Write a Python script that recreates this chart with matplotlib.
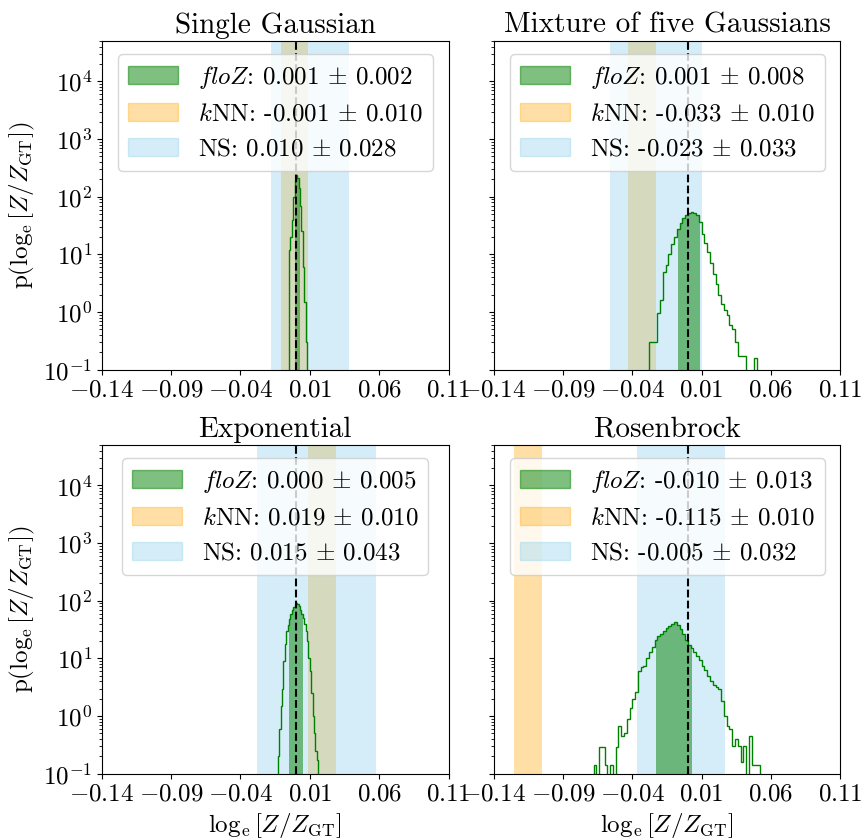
import numpy as np
import matplotlib
matplotlib.use('Agg')
import matplotlib.pyplot as plt
from matplotlib.patches import Patch
from matplotlib.ticker import LogLocator, NullFormatter

plt.rcParams['font.family'] = 'serif'
plt.rcParams['font.serif'] = ['cmr10']
plt.rcParams['mathtext.fontset'] = 'cm'
plt.rcParams['axes.formatter.use_mathtext'] = True

titles = ['Single Gaussian', 'Mixture of five Gaussians', 'Exponential', 'Rosenbrock']

# mean and std of log-evidence error for each method
floz_mean = [0.001, 0.001, 0.000, -0.010]
floz_std = [0.002, 0.008, 0.005, 0.013]
knn_mean = [-0.001, -0.033, 0.019, -0.115]
knn_std = [0.010, 0.010, 0.010, 0.010]
ns_mean = [0.010, -0.023, 0.015, -0.005]
ns_std = [0.028, 0.033, 0.043, 0.032]

# floZ histograms (density per bin)
gauss_start, gauss_width = -0.005, 0.001
gauss_dens = [12, 20, 40, 100, 190, 240, 210, 140, 70, 25, 6, 1.5, 0.3]

mix_start, mix_width = -0.028, 0.002
mix_dens = [0.3, 0.3, 0.3, 0.95, 1.6, 5, 6.5, 10, 15, 20, 28, 35, 43, 49, 53,
            54, 53, 48, 36, 23, 16, 11, 7, 4.5, 3, 2, 1.4, 1.1, 0.9, 0.6,
            0.5, 0.3, 0.17, 0.17, 0.17, 0, 0, 0, 0.16]

exp_start, exp_width = -0.013, 0.001
exp_dens = [0.2, 0.6, 1.5, 3, 9, 18, 30, 38, 48, 58, 68, 78, 86, 92, 88,
            80, 70, 60, 50, 40, 30, 20, 10, 6, 2.5, 1, 0.5, 0.25, 0.17]

rosen_start, rosen_width = -0.068, 0.002
rosen_dens = [0.14, 0, 0.29, 0.29, 0.14, 0, 0.14, 0, 0.29, 0.68, 0.45, 0.5,
              0.9, 1.35, 2, 2.6, 6, 7, 7.5, 10, 13, 16, 21, 24, 27, 30, 34,
              37, 40, 43, 38, 32, 27, 21, 17, 15, 13, 11, 9.5, 7.5, 6.3, 5,
              4, 3.4, 3.2, 3, 1.8, 1.0, 0.68, 0.6, 0.3, 0.4, 0.3, 0.16, 0.3,
              0, 0.45, 0.14, 0.14, 0.14]

hists = [(gauss_start, gauss_width, gauss_dens),
         (mix_start, mix_width, mix_dens),
         (exp_start, exp_width, exp_dens),
         (rosen_start, rosen_width, rosen_dens)]

xticks = [-0.14, -0.09, -0.04, 0.01, 0.06, 0.11]


def plot():
    fig, axes = plt.subplots(2, 2, figsize=(8.62, 8.4), dpi=100)
    fig.subplots_adjust(left=0.118, right=0.975, top=0.951, bottom=0.079,
                        wspace=0.13, hspace=0.23)

    for i, ax in enumerate(axes.flat):
        start, width, dens = hists[i]
        dens = np.array(dens, dtype=float)
        edges = start + width * np.arange(len(dens) + 1)

        ax.axvspan(knn_mean[i] - knn_std[i], knn_mean[i] + knn_std[i],
                   color='orange', alpha=0.35, lw=0)
        ax.axvspan(ns_mean[i] - ns_std[i], ns_mean[i] + ns_std[i],
                   color='skyblue', alpha=0.35, lw=0)

        # shade the histogram within one std of the floZ mean
        lo = floz_mean[i] - floz_std[i]
        hi = floz_mean[i] + floz_std[i]
        xs = np.clip(edges, lo, hi)
        ys = np.append(dens, dens[-1])
        ax.fill_between(xs, ys, 1e-3, step='post', color='green', alpha=0.5, lw=0)
        ax.hist(edges[:-1], bins=edges, weights=dens, histtype='step',
                color='green', lw=1)

        ax.axvline(0, color='black', ls='--', lw=1.5)

        ax.set_yscale('log')
        ax.set_ylim(0.1, 5e4)
        ax.yaxis.set_major_locator(LogLocator(base=10, numticks=20))
        ax.yaxis.set_minor_locator(LogLocator(base=10, subs=np.arange(2, 10), numticks=20))
        ax.yaxis.set_minor_formatter(NullFormatter())
        ax.set_xlim(-0.14, 0.11)
        ax.set_xticks(xticks)
        ax.set_xticklabels(['$%.2f$' % t for t in xticks])
        ax.tick_params(labelsize=18)
        ax.set_title(titles[i], fontsize=21)

        handles = [
            Patch(facecolor='green', edgecolor='green', alpha=0.5),
            Patch(facecolor='orange', edgecolor='orange', alpha=0.35),
            Patch(facecolor='skyblue', edgecolor='skyblue', alpha=0.35),
        ]
        labels = [
            r'$floZ$: %.3f $\pm$ %.3f' % (floz_mean[i], floz_std[i]),
            r'$k$NN: %.3f $\pm$ %.3f' % (knn_mean[i], knn_std[i]),
            r'NS: %.3f $\pm$ %.3f' % (ns_mean[i], ns_std[i]),
        ]
        ax.legend(handles, labels, loc='upper center', fontsize=18)

        if i % 2 == 0:
            ax.set_ylabel(r'$\mathrm{p}(\log_\mathrm{e}\left[Z/Z_\mathrm{GT}\right])$',
                          fontsize=18)
        else:
            ax.tick_params(labelleft=False)
        if i >= 2:
            ax.set_xlabel(r'$\log_\mathrm{e}\left[Z/Z_\mathrm{GT}\right]$', fontsize=18)

    fig.savefig('out.png')


if __name__ == '__main__':
    plot()
